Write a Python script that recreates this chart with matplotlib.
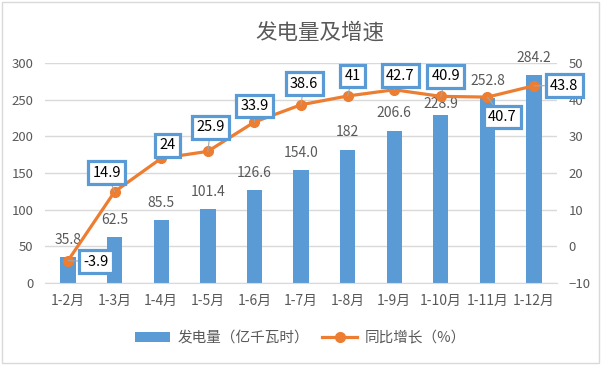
import matplotlib
matplotlib.use("Agg")
import matplotlib.pyplot as plt
from matplotlib.patches import Rectangle
from matplotlib.lines import Line2D
from matplotlib.patches import Patch

plt.rcParams['font.family'] = ['Noto Sans CJK SC', 'DejaVu Sans']

categories = ["1-2月", "1-3月", "1-4月", "1-5月", "1-6月", "1-7月", "1-8月", "1-9月", "1-10月", "1-11月", "1-12月"]
generation = [35.8, 62.5, 85.5, 101.4, 126.6, 154.0, 182, 206.6, 228.9, 252.8, 284.2]
generation_labels = ["35.8", "62.5", "85.5", "101.4", "126.6", "154.0", "182", "206.6", "228.9", "252.8", "284.2"]
growth = [-3.9, 14.9, 24, 25.9, 33.9, 38.6, 41, 42.7, 40.9, 40.7, 43.8]
growth_labels = ["-3.9", "14.9", "24", "25.9", "33.9", "38.6", "41", "42.7", "40.9", "40.7", "43.8"]

# label offsets in pixels (dx, dy) with dy positive upward
label_offsets = [(28, -1), (-8, 19), (6, 13), (3, 24), (0, 16), (3, 21), (5, 20), (6, 14), (5, 20), (15, -20), (30, 0)]
bar_label_gaps = [10, 10, 10, 10, 10, 10, 11, 11, 4, 10, 10]

BLUE = "#5B9BD5"
ORANGE = "#ED7D31"
GRAY = "#595959"
GRID = "#D9D9D9"

fig = plt.figure(figsize=(6.01, 3.65), dpi=100)
ax = fig.add_axes([0.0744, 0.2247, 0.8529, 0.6027])
ax2 = ax.twinx()

x = list(range(len(categories)))
ax.bar(x, generation, width=0.33, color=BLUE, zorder=2)
ax.set_ylim(0, 300)
ax.set_yticks(range(0, 301, 50))
ax.set_xlim(-0.5, len(categories) - 0.5)
ax.set_xticks(x)
ax.set_xticklabels(categories)
ax.grid(axis='y', color=GRID, linewidth=1, zorder=0)
ax.set_axisbelow(True)

for xi, v, s, g in zip(x, generation, generation_labels, bar_label_gaps):
    ax.annotate(s, (xi, v), xytext=(0, g), textcoords='offset pixels',
                ha='center', va='bottom', fontsize=10, color=GRAY, zorder=3)

ax2.plot(x, growth, color=ORANGE, linewidth=2.3, marker='o', markersize=7, zorder=4)
ax2.set_ylim(-10, 50)
ax2.set_yticks(range(-10, 51, 10))

for xi, v, s, (dx, dy) in zip(x, growth, growth_labels, label_offsets):
    ax2.annotate(s, (xi, v), xytext=(dx, dy), textcoords='offset pixels',
                 ha='center', va='center', fontsize=10.5, color='black', zorder=6,
                 bbox=dict(boxstyle='square,pad=0.3', fc='white', ec=BLUE, lw=2.3),
                 arrowprops=dict(arrowstyle='-', color='#A6A6A6', lw=0.8, shrinkA=0, shrinkB=0))

for a in (ax, ax2):
    for sp in a.spines.values():
        sp.set_visible(False)
    a.tick_params(length=0, colors=GRAY, labelsize=9.5)
ax.spines['bottom'].set_visible(True)
ax.spines['bottom'].set_color(GRID)
ax.tick_params(axis='x', pad=8, labelsize=10)
ax.tick_params(axis='y', pad=8)
ax2.tick_params(axis='y', pad=8)

fig.text(0.532, 0.91, "发电量及增速", ha='center', va='center', fontsize=15.5, color=GRAY)

handles = [Patch(facecolor=BLUE, edgecolor='none'),
           Line2D([0], [0], color=ORANGE, lw=2.3, marker='o', markersize=7)]
fig.legend(handles, ["发电量（亿千瓦时）", "同比增长（%）"], loc='center', bbox_to_anchor=(0.5, 0.074),
           ncol=2, frameon=False, fontsize=10.5, labelcolor=GRAY, handlelength=2.4, handleheight=0.7,
           columnspacing=0.9, handletextpad=0.5)

fig.patches.append(Rectangle((0.003, 0.005), 0.993, 0.99, transform=fig.transFigure,
                             fill=False, ec=GRID, lw=1))

fig.savefig("out.png", dpi=100)
